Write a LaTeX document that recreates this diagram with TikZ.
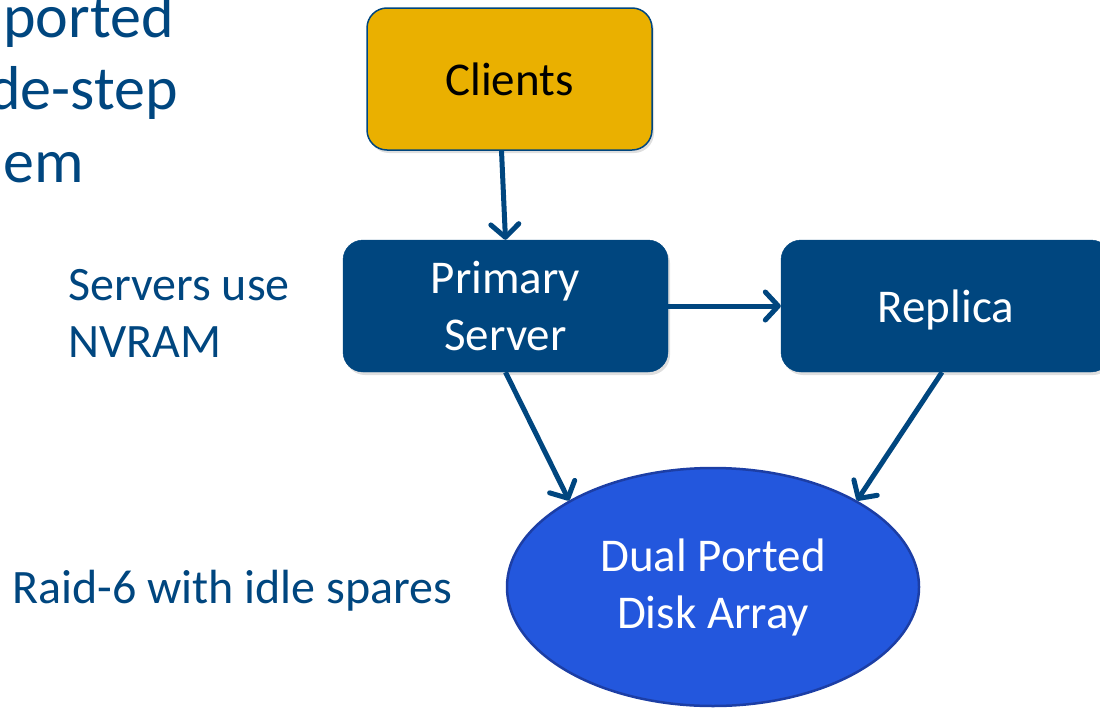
\documentclass[tikz,border=0pt]{standalone}
\usepackage{fontspec}
\setmainfont{Carlito}
\usetikzlibrary{arrows.meta,shapes.geometric,shadows}
\definecolor{navy}{RGB}{0,70,127}
\definecolor{gold}{RGB}{234,176,0}
\definecolor{diskblue}{RGB}{35,87,221}
\definecolor{diskedge}{RGB}{28,62,165}
\begin{document}
\begin{tikzpicture}[x=1pt,y=-1pt,
  box/.style={rounded corners=20pt,minimum width=325pt,minimum height=132pt,
    inner sep=0pt,align=center,font=\fontsize{47}{57}\selectfont,
    drop shadow={shadow xshift=2pt,shadow yshift=-3pt,opacity=0.25}},
  srv/.style={box,fill=navy,draw=navy,text=white},
  link/.style={draw=navy,line width=5pt,-{Straight Barb[length=13pt,width=28pt,line width=5pt,round]}},
  note/.style={text=navy,anchor=base west,inner sep=0pt,align=left,font=\fontsize{48}{57}\selectfont},
  title/.style={text=navy,anchor=base west,inner sep=0pt,font=\fontsize{62}{74}\selectfont}]
\useasboundingbox (0,0) rectangle (1100,707);
\clip (0,0) rectangle (1100,707);

% title fragments
\node[title] (t1) at (3,37) {ported};
\node[title] (t2) at (-12,109) {de-step};
\node[title] (t3) at (3,182) {em};

% side notes
\node[note] (n1) at (68,357) {Servers use\\NVRAM};
\node[note] (n2) at (12,603) {Raid-6 with idle spares};

% boxes
\node[box,fill=gold,draw=navy,line width=1.5pt,minimum width=285pt,minimum height=142pt] (clients) at (509.5,79) {Clients};
\node[srv] (primary) at (505.5,306) {Primary\\Server};
\node[srv,minimum width=330pt,text depth=0pt] (replica) at (946,306) {Replica};

% disk array
\node[ellipse,fill=diskblue,draw=diskedge,line width=2.5pt,minimum width=412pt,minimum height=238pt,
  inner sep=0pt,align=center,text=white,font=\fontsize{47}{57}\selectfont] (disk) at (713,587) {Dual Ported\\Disk Array};

% connectors
\draw[link] ([xshift=-8pt]clients.south) -- (primary.north);
\draw[link] (primary.east) -- (replica.west);
\draw[link] (primary.south) -- (disk.149);
\draw[link] ([xshift=-4pt]replica.south) -- (disk.31);
\end{tikzpicture}
\end{document}
